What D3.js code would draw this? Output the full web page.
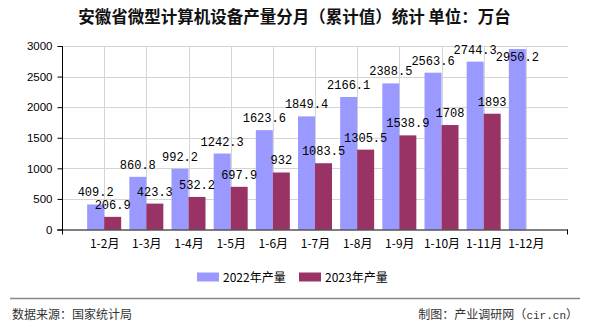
<!DOCTYPE html>
<html><head><meta charset="utf-8">
<script src="https://cdn.jsdelivr.net/npm/d3@7/dist/d3.min.js"></script>
<style>body{margin:0;background:#fff}svg{display:block}</style>
</head><body>
<script>
const categories = ["1-2月","1-3月","1-4月","1-5月","1-6月","1-7月","1-8月","1-9月","1-10月","1-11月","1-12月"];
const values2022 = [409.2, 860.8, 992.2, 1242.3, 1623.6, 1849.4, 2166.1, 2388.5, 2563.6, 2744.3, 2950.2];
const values2023 = [206.9, 423.3, 532.2, 697.9, 932, 1083.5, 1305.5, 1538.9, 1708, 1893, null];
const labels2022 = ["409.2","860.8","992.2","1242.3","1623.6","1849.4","2166.1","2388.5","2563.6","2744.3","2950.2"];
const labels2023 = ["206.9","423.3","532.2","697.9","932","1083.5","1305.5","1538.9","1708","1893",null];
const yTicks = [0,500,1000,1500,2000,2500,3000];
const seriesNames = ["2022年产量","2023年产量"];
const colors = ["#9999ff","#993366"];
const title = "安徽省微型计算机设备产量分月（累计值）统计 单位：万台";
const source = "数据来源：国家统计局";
const creditParts = ["制图：产业调研网（", "cir.cn", "）"];

const W = 590, H = 330;
const svg = d3.select("body").append("svg").attr("width", W).attr("height", H);
const pL = 62, pR = 568, pT = 46, pB = 229.5;
const cjk = "'Noto Sans CJK SC','Noto Sans',sans-serif";
const mono = "'Liberation Mono','DejaVu Sans Mono',monospace";

const x = d3.scalePoint().domain(categories).range([pL, pR]).padding(1);
const y = d3.scaleLinear().domain([0, 3000]).range([pB, pT]);
const bw = 17;

// title
svg.append("text").attr("x", 294.5).attr("y", 22.5).attr("text-anchor","middle")
  .style("font-family", cjk).style("font-size","16.5px").style("font-weight","bold").attr("fill","#111")
  .text(title);

// grid
const g = svg.append("g");
g.selectAll("line.h").data(yTicks.filter(d=>d>0)).join("line")
  .attr("x1", pL).attr("x2", pR).attr("y1", d=>Math.round(y(d))+0.5).attr("y2", d=>Math.round(y(d))+0.5)
  .attr("stroke","#d4d4d4").attr("stroke-width",1);
g.selectAll("line.v").data(categories).join("line")
  .attr("x1", d=>Math.round(x(d))+0.5).attr("x2", d=>Math.round(x(d))+0.5).attr("y1", pT).attr("y2", pB)
  .attr("stroke","#d4d4d4").attr("stroke-width",1);

// bars
const bars = svg.append("g");
bars.selectAll("rect.a").data(categories).join("rect")
  .attr("x", (d)=>x(d)-bw).attr("width", bw)
  .attr("y", (d,i)=>y(values2022[i])).attr("height", (d,i)=>pB - y(values2022[i]))
  .attr("fill", colors[0]);
bars.selectAll("rect.b").data(categories.filter((d,i)=>values2023[i]!=null)).join("rect")
  .attr("x", (d)=>x(d)).attr("width", bw)
  .attr("y", (d)=>y(values2023[categories.indexOf(d)])).attr("height", (d)=>pB - y(values2023[categories.indexOf(d)]))
  .attr("fill", colors[1]);

// axes
const yAxis = d3.axisLeft(y).tickValues(yTicks).tickSize(5).tickPadding(5).tickFormat(d3.format("d"));
const ya = svg.append("g").attr("transform", `translate(${pL+0.5},0)`).call(yAxis);
ya.select(".domain").attr("stroke","#000").attr("d", `M0,${pT}V${pB+5}`);
ya.selectAll(".tick line").attr("stroke","#000");
ya.selectAll("text").style("font-family","'Liberation Sans',Arial,sans-serif").style("font-size","11.5px").attr("fill","#000");

svg.append("line").attr("x1", pL-5).attr("x2", pR).attr("y1", pB+0.5).attr("y2", pB+0.5).attr("stroke","#000");
svg.append("line").attr("x1", pR-0.5).attr("x2", pR-0.5).attr("y1", pB).attr("y2", pB+5).attr("stroke","#000");

const xa = svg.append("g").attr("transform", `translate(0,${pB})`)
  .call(d3.axisBottom(x).tickSize(0).tickPadding(10));
xa.select(".domain").remove();
xa.selectAll("text").style("font-family", cjk).style("font-size","12px").attr("fill","#000");

// data labels
const lab = svg.append("g").style("font-family", mono).style("font-size","12px").attr("fill","#000").attr("text-anchor","middle");
categories.forEach((c,i)=>{
  let ty = y(values2022[i]) - 8;
  if (ty < pT + 4) ty = y(values2022[i]) + 12;
  lab.append("text").attr("x", x(c)-bw/2).attr("y", ty).text(labels2022[i]);
  if (values2023[i] != null) {
    lab.append("text").attr("x", x(c)+bw/2).attr("y", y(values2023[i]) - 8).text(labels2023[i]);
  }
});

// legend
const leg = svg.append("g");
const legX = [197, 299];
seriesNames.forEach((n,i)=>{
  leg.append("rect").attr("x", legX[i]).attr("y", 272.5).attr("width", 22).attr("height", 9).attr("fill", colors[i]);
  leg.append("text").attr("x", legX[i]+26).attr("y", 281.5).style("font-family", cjk).style("font-size","12px").attr("fill","#000").text(n);
});

// footer
svg.append("line").attr("x1", 10).attr("x2", 580).attr("y1", 298.5).attr("y2", 298.5).attr("stroke","#888").attr("stroke-width",1.5);
svg.append("text").attr("x", 12).attr("y", 319).style("font-family", cjk).style("font-size","12px").attr("fill","#333").text(source);
const cr = svg.append("text").attr("x", 578).attr("y", 319).attr("text-anchor","end").style("font-family", cjk).style("font-size","12px").attr("fill","#333");
cr.append("tspan").text(creditParts[0]);
cr.append("tspan").style("font-family", mono).style("font-size","11px").text(creditParts[1]);
cr.append("tspan").text(creditParts[2]);
</script>
</body></html>
